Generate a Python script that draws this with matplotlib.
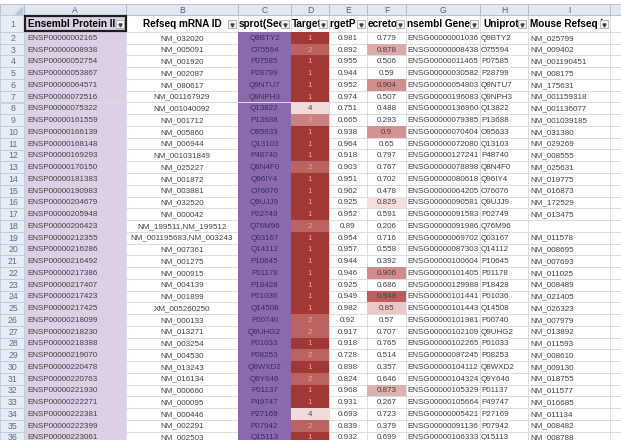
import matplotlib
matplotlib.use('Agg')
import matplotlib.pyplot as plt
from matplotlib.patches import Rectangle
from matplotlib.colors import LinearSegmentedColormap, Normalize
from matplotlib.transforms import Bbox, TransformedBbox

# sheet content (rows 2..36)
col_letters = ['A', 'B', 'C', 'D', 'E', 'F', 'G', 'H', 'I']
headers = ['Ensembl Protein II', 'Refseq mRNA ID', 'sprot(Sec', 'Target', 'rgetP s',
           'ecretor', 'nsembl Gene', 'Uniprot', 'Mouse Refseq I']
row_numbers = list(range(2, 37))

ensp = ['ENSP00000002165', 'ENSP00000008938', 'ENSP00000052754', 'ENSP00000053867',
        'ENSP00000064571', 'ENSP00000072516', 'ENSP00000075322', 'ENSP00000161559',
        'ENSP00000166139', 'ENSP00000168148', 'ENSP00000169293', 'ENSP00000170150',
        'ENSP00000181383', 'ENSP00000190983', 'ENSP00000204679', 'ENSP00000205948',
        'ENSP00000206423', 'ENSP00000212355', 'ENSP00000216286', 'ENSP00000216492',
        'ENSP00000217386', 'ENSP00000217407', 'ENSP00000217423', 'ENSP00000217425',
        'ENSP00000218099', 'ENSP00000218230', 'ENSP00000218388', 'ENSP00000219070',
        'ENSP00000220478', 'ENSP00000220763', 'ENSP00000221930', 'ENSP00000222271',
        'ENSP00000222381', 'ENSP00000222399', 'ENSP00000223061']
refseq = ['NM_032020', 'NM_005091', 'NM_001920', 'NM_002087', 'NM_080617', 'NM_001167929',
          'NM_001040092', 'NM_001712', 'NM_005860', 'NM_006944', 'NM_001031849', 'NM_025227',
          'NM_001872', 'NM_003881', 'NM_032520', 'NM_000042', 'NM_199511,NM_199512',
          'NM_001195683,NM_003243', 'NM_007361', 'NM_001275', 'NM_000915', 'NM_004139',
          'NM_001899', 'XM_005260250', 'NM_000133', 'NM_013271', 'NM_003254', 'NM_004530',
          'NM_013243', 'NM_016134', 'NM_000660', 'NM_000095', 'NM_000446', 'NM_002291',
          'NM_002503']
swissprot = ['Q9BTY2', 'O75594', 'P07585', 'P28799', 'Q9NTU7', 'Q9NPH3', 'Q13822', 'P13688',
             'O95633', 'Q13103', 'P48740', 'Q8N4F0', 'Q96IY4', 'O76076', 'Q9UJJ9', 'P02749',
             'Q76M96', 'Q03167', 'Q14112', 'P10645', 'P01178', 'P18428', 'P01036', 'Q14508',
             'P00740', 'Q9UHG2', 'P01033', 'P08253', 'Q8WXD2', 'Q9Y646', 'P01137', 'P49747',
             'P27169', 'P07942', 'Q15113']
target = [1, 2, 1, 1, 1, 1, 4, 3, 1, 1, 1, 2, 1, 1, 1, 1, 2, 1, 1, 1, 1, 1, 1, 1,
          2, 2, 1, 2, 1, 2, 1, 1, 4, 2, 1]
targetp = [0.981, 0.892, 0.955, 0.944, 0.952, 0.974, 0.751, 0.665, 0.938, 0.964, 0.918,
           0.903, 0.951, 0.962, 0.925, 0.952, 0.89, 0.954, 0.957, 0.944, 0.946, 0.925,
           0.949, 0.982, 0.92, 0.917, 0.918, 0.728, 0.898, 0.824, 0.968, 0.931, 0.693,
           0.839, 0.932]
secretome = [0.779, 0.878, 0.506, 0.59, 0.904, 0.507, 0.488, 0.293, 0.9, 0.65, 0.797,
             0.767, 0.702, 0.478, 0.829, 0.591, 0.206, 0.716, 0.558, 0.392, 0.906, 0.686,
             0.948, 0.85, 0.57, 0.707, 0.765, 0.514, 0.357, 0.646, 0.873, 0.267, 0.723,
             0.379, 0.699]
ensg = ['ENSG00000001036', 'ENSG00000008438', 'ENSG00000011465', 'ENSG00000030582',
        'ENSG00000054803', 'ENSG00000196083', 'ENSG00000136960', 'ENSG00000079385',
        'ENSG00000070404', 'ENSG00000072080', 'ENSG00000127241', 'ENSG00000078898',
        'ENSG00000080618', 'ENSG00000064205', 'ENSG00000090581', 'ENSG00000091583',
        'ENSG00000091986', 'ENSG00000069702', 'ENSG00000087303', 'ENSG00000100604',
        'ENSG00000101405', 'ENSG00000129988', 'ENSG00000101441', 'ENSG00000101443',
        'ENSG00000101981', 'ENSG00000102109', 'ENSG00000102265', 'ENSG00000087245',
        'ENSG00000104112', 'ENSG00000104324', 'ENSG00000105329', 'ENSG00000105664',
        'ENSG00000005421', 'ENSG00000091136', 'ENSG00000106333']
uniprot = list(swissprot)
mouse_refseq = ['NM_025799', 'NM_009402', 'NM_001190451', 'NM_008175', 'NM_175631',
                'NM_001159318', 'NM_001136077', 'NM_001039185', 'NM_031380', 'NM_029269',
                'NM_008555', 'NM_025631', 'NM_019775', 'NM_016873', 'NM_172529', 'NM_013475',
                '', 'NM_011578', 'NM_008695', 'NM_007693', 'NM_011025', 'NM_008489',
                'NM_021405', 'NM_026323', 'NM_007979', 'NM_013892', 'NM_011593', 'NM_008610',
                'NM_009130', 'NM_018755', 'NM_011577', 'NM_016685', 'NM_011134', 'NM_008482',
                'NM_008788']

# layout (pixels)
x_edges = [0, 24, 126, 238, 291, 329, 367, 406, 480, 528, 610, 640]
y_letters, y_head, row_h = 4.5, 15.5, 11.75
y_data = 32.0
W, H = 621, 444

FONT = ['Liberation Sans', 'DejaVu Sans']
grid_c = '#d9dde3'
lav = '#dccfe6'
purple = '#8a6aac'
target_cmap = LinearSegmentedColormap.from_list(
    'tgt', [(0, '#a23834'), (0.34, '#ba6462'), (0.67, '#c9827f'), (1, '#f1dad9')])
target_norm = Normalize(1, 4)
sec_cmap = LinearSegmentedColormap.from_list('sec', ['#f8e8e7', '#b9524f'])
sec_norm = Normalize(0.82, 0.96)

fig = plt.figure(figsize=(W / 100, H / 100), dpi=100)
ax = fig.add_axes([0, 0, 1, 1])
ax.set_xlim(0, W)
ax.set_ylim(H, 0)
ax.axis('off')

n = len(ensp)
y_bottom = y_data + n * row_h

# gridlines of the sheet
for i in range(n + 1):
    yy = y_data + i * row_h
    ax.plot([x_edges[1], W], [yy, yy], color=grid_c, lw=0.7, zorder=1)
for xx in x_edges[2:]:
    ax.plot([xx, xx], [y_head, y_bottom], color=grid_c, lw=0.7, zorder=1)
ax.plot([x_edges[1], W], [y_head, y_head], color=grid_c, lw=0.7, zorder=1)


def cell(ci, top, h, color):
    ax.add_patch(Rectangle((x_edges[ci + 1], top), x_edges[ci + 2] - x_edges[ci + 1], h,
                           facecolor=color, edgecolor='none', zorder=2))


def put(ci, top, h, s, ha='center', color='#404040', pad=3, **kw):
    x0, x1 = x_edges[ci + 1], x_edges[ci + 2]
    if ha == 'left':
        xx = x0 + pad
    elif ha == 'right':
        xx = x1 - pad
    else:
        xx = (x0 + x1) / 2
    t = ax.text(xx, top + h / 2 + 0.5, s, ha=ha, va='center', color=color, zorder=5,
                clip_on=True, **kw)
    t.set_clip_box(TransformedBbox(Bbox.from_extents(x0, top, x1, top + h), ax.transData))
    return t


# header row
cell(0, y_head, y_data - y_head, lav)
head_align = ['left', 'center', 'left', 'left', 'left', 'left', 'left', 'left', 'left']
head_pad = [4, 3, 1, 1, 1, 1, 1, 3, 2]
for ci, (hd, al) in enumerate(zip(headers, head_align)):
    put(ci, y_head, y_data - y_head, hd, ha=al, color='black', fontsize=7.2,
        fontweight='bold', family=FONT, pad=head_pad[ci])
    # filter button
    bx = x_edges[ci + 2] - 10
    ax.add_patch(Rectangle((bx, y_head + 5), 8, 8, facecolor='#f4f4f4',
                           edgecolor='#a8a8a8', lw=0.6, zorder=6))
    ax.plot(bx + 4, y_head + 9.2, marker='v', ms=2.2, color='#404040', zorder=7)

# data rows
fs = 5.8
for r in range(n):
    top = y_data + r * row_h
    cell(0, top, row_h, lav)
    cell(2, top, row_h, purple)
    cell(3, top, row_h, target_cmap(target_norm(target[r])))
    if secretome[r] >= 0.82:
        cell(5, top, row_h, sec_cmap(sec_norm(secretome[r])))
    put(0, top, row_h, ensp[r], ha='left', fontsize=fs, family=FONT)
    put(1, top, row_h, refseq[r], fontsize=fs, family=FONT)
    put(2, top, row_h, swissprot[r], color='#3a2a60', fontsize=fs, family=FONT)
    tcol = '#5a4a4a' if target[r] >= 4 else '#eaa49c'
    put(3, top, row_h, str(target[r]), color=tcol, fontsize=fs, family=FONT)
    put(4, top, row_h, f'{targetp[r]:g}', fontsize=fs, family=FONT)
    put(5, top, row_h, f'{secretome[r]:g}', fontsize=fs, family=FONT)
    put(6, top, row_h, ensg[r], ha='left', fontsize=fs, family=FONT, pad=1)
    put(7, top, row_h, uniprot[r], ha='left', fontsize=fs, family=FONT, pad=1)
    put(8, top, row_h, mouse_refseq[r], ha='left', fontsize=fs, family=FONT, pad=2)

# column letters bar
for ci, let in enumerate(col_letters + ['']):
    x0, x1 = x_edges[ci + 1], x_edges[ci + 2]
    ax.add_patch(Rectangle((x0, y_letters), x1 - x0, y_head - y_letters,
                           facecolor='#e1e8f2', edgecolor='#a9bbd1', lw=0.6, zorder=8))
    ax.text((x0 + x1) / 2, (y_letters + y_head) / 2 + 0.5, let, ha='center', va='center',
            fontsize=6.2, color='#4d5f7d', family=FONT, zorder=9)

# row numbers bar
ax.add_patch(Rectangle((0, y_letters), x_edges[1], y_head - y_letters,
                       facecolor='#dfe6f0', edgecolor='#a9bbd1', lw=0.6, zorder=8))
ax.fill([x_edges[1] - 2, x_edges[1] - 2, x_edges[1] - 9],
        [y_head - 8, y_head - 1.5, y_head - 1.5], color='#b9c8da', zorder=9)
row_labels = [1] + row_numbers
for k, num in enumerate(row_labels):
    if k == 0:
        top, h = y_head, y_data - y_head
    else:
        top, h = y_data + (k - 1) * row_h, row_h
    ax.add_patch(Rectangle((0, top), x_edges[1], h, facecolor='#e6edf6',
                           edgecolor='#bccadb', lw=0.6, zorder=8))
    ax.text(x_edges[1] / 2 + 1, top + h / 2 + 0.5, str(num), ha='center', va='center',
            fontsize=6.3, color='#5b6d8a', family=FONT, zorder=9)

# active cell A1
ax.add_patch(Rectangle((x_edges[1] + 0.5, y_head + 0.5), x_edges[2] - x_edges[1] - 1,
                       y_data - y_head - 1, facecolor='none', edgecolor='#1e1e1e',
                       lw=1.6, zorder=10))

# screenshot borders
ax.add_patch(Rectangle((0, 0), W, y_letters, facecolor='white', edgecolor='none', zorder=11))
ax.add_patch(Rectangle((0, 440), W, 4, facecolor='white', edgecolor='none', zorder=11))

fig.savefig('out.png', dpi=100)
